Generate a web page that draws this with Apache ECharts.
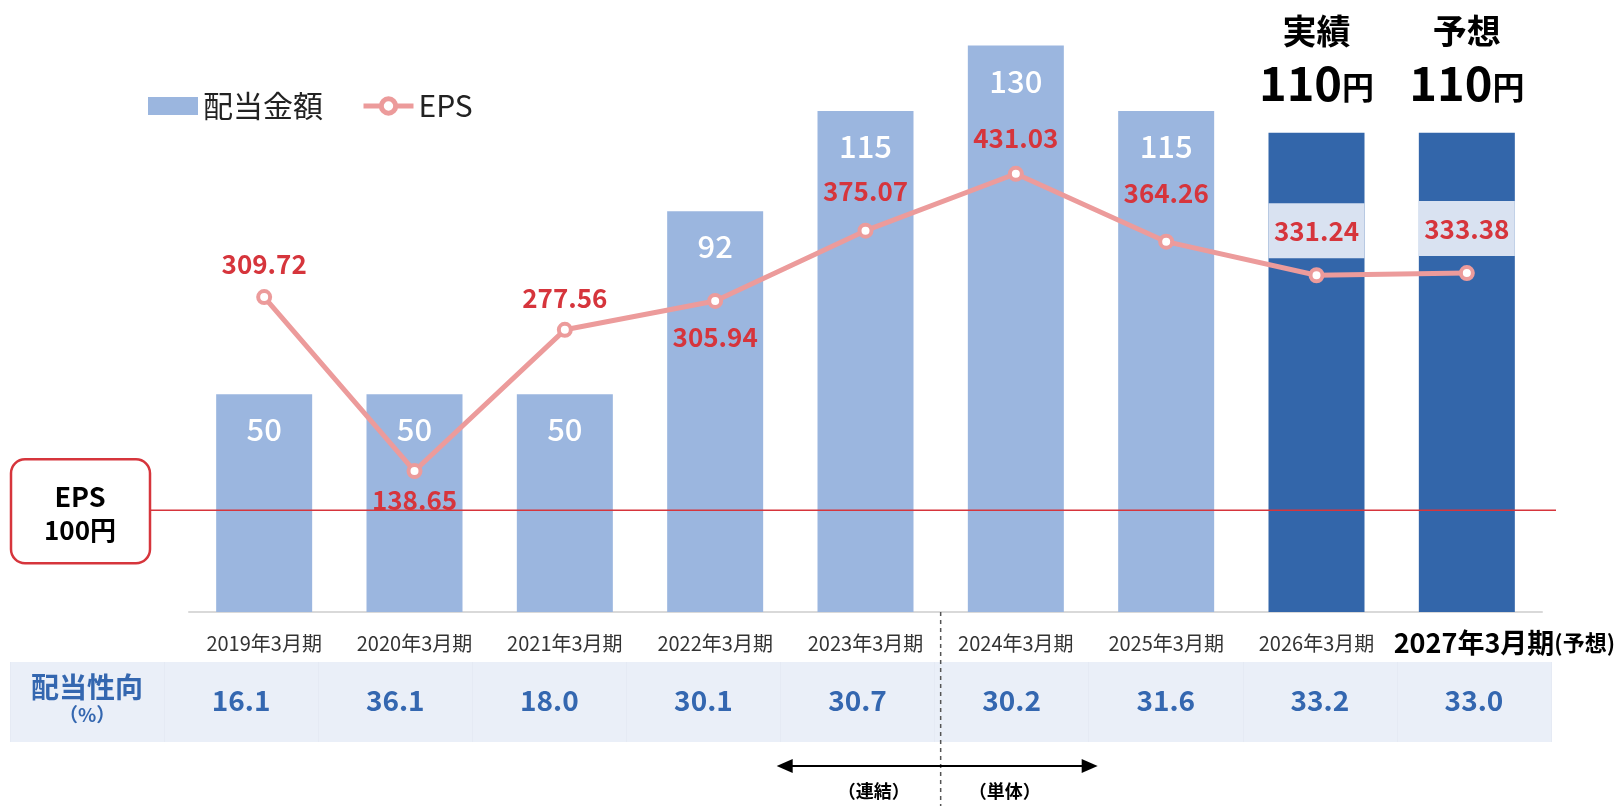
<!DOCTYPE html>
<html>
<head>
<meta charset="utf-8">
<script src="https://cdn.jsdelivr.net/npm/echarts@6/dist/echarts.min.js"></script>
<style>
html, body { margin: 0; padding: 0; background: #fff; }
#main { width: 1621px; height: 806px; }
</style>
</head>
<body>
<div id="main"></div>
<script>
// data
var categories = ['2019年3月期', '2020年3月期', '2021年3月期', '2022年3月期', '2023年3月期',
    '2024年3月期', '2025年3月期', '2026年3月期', '2027年3月期'];
var dividends = [50, 50, 50, 92, 115, 130, 115, 110, 110];
var eps = [309.72, 138.65, 277.56, 305.94, 375.07, 431.03, 364.26, 331.24, 333.38];
var payoutRatio = ['16.1', '36.1', '18.0', '30.1', '30.7', '30.2', '31.6', '33.2', '33.0'];
var payoutHeader = '配当性向';
var payoutUnit = '（%）';
var topTitles = { 7: '実績', 8: '予想' };
var forecastSuffix = '(予想)';
var epsGuide = 100;
var splitCats = ['2023年3月期', '2024年3月期'];
var splitNames = ['（連結）', '（単体）'];

var FONT = '"Noto Sans CJK JP", "Noto Sans", sans-serif';
var LIGHT = '#9BB6DF', DARK = '#3366AA', PINK = '#EC9B9B', RED = '#D6353C', BLUE = '#3467B0';

// per point: label side and gap from marker
var epsLabelSide = ['top', 'bottom', 'top', 'bottom', 'top', 'top', 'top', 'top', 'top'];
var epsLabelGap = [12, 8, 11, 15, 19, 15, 28, 9, 9];

var chart = echarts.init(document.getElementById('main'));

var barData = dividends.map(function (v, i) {
    if (topTitles[i]) {
        return {
            value: v,
            itemStyle: { color: DARK },
            label: {
                show: true,
                position: 'top',
                distance: 24,
                formatter: '{t|' + topTitles[i] + '}\n{n|' + v + '}{y|円}',
                rich: {
                    t: { fontSize: 34, fontWeight: 'bold', color: '#000', lineHeight: 52, fontFamily: FONT },
                    n: { fontSize: 47, fontWeight: 'bold', color: '#000', lineHeight: 52, fontFamily: FONT },
                    y: { fontSize: 32, fontWeight: 'bold', color: '#000', lineHeight: 52, fontFamily: FONT, padding: [8, 0, 0, 0] }
                }
            }
        };
    }
    return v;
});

var epsData = eps.map(function (v, i) {
    var lab = { position: epsLabelSide[i], distance: epsLabelGap[i] };
    if (topTitles[i]) {
        lab.backgroundColor = '#D9E2F1';
        lab.width = 96;
        lab.height = 26;
        lab.lineHeight = 26;
        lab.padding = [15, 0, 14, 0];
        lab.align = 'center';
    }
    return { value: v, label: lab };
});

var option = {
    animation: false,
    textStyle: { fontFamily: FONT },
    legend: {
        left: 148,
        top: 91,
        padding: 0,
        itemWidth: 50,
        itemHeight: 18,
        itemGap: 38,
        textStyle: { fontSize: 30, color: '#222', fontFamily: FONT },
        lineStyle: { width: 5 },
        itemStyle: { borderWidth: 5 },
        data: [{ name: '配当金額', icon: 'rect' }, { name: 'EPS' }]
    },
    grid: [
        { left: 189, right: 79, top: 2, bottom: 194 },
        { left: 10, right: 70, top: 662, bottom: 64, show: true, backgroundColor: '#EAEFF8', borderWidth: 0 }
    ],
    xAxis: [
        {
            type: 'category',
            gridIndex: 0,
            data: categories,
            axisLine: { lineStyle: { color: '#D9D9D9', width: 2 } },
            axisTick: { show: false },
            axisLabel: {
                interval: 0,
                fontSize: 20,
                color: '#333',
                margin: 31,
                verticalAlign: 'middle',
                formatter: function (v, i) {
                    if (i === categories.length - 1) return '{big|' + v + '}{small|' + forecastSuffix + '}';
                    return v;
                },
                rich: {
                    big: { fontSize: 27, fontWeight: 'bold', color: '#000', padding: [0, 0, 0, 75], fontFamily: FONT },
                    small: { fontSize: 22, fontWeight: 'bold', color: '#000', fontFamily: FONT }
                }
            }
        },
        {
            type: 'category',
            gridIndex: 1,
            data: [payoutHeader].concat(payoutRatio),
            axisLine: { show: false },
            axisTick: { show: false },
            splitLine: { show: true, interval: 0, lineStyle: { color: '#E5EAF4', width: 1 } },
            axisLabel: {
                interval: 0,
                inside: true,
                margin: 42,
                verticalAlign: 'middle',
                color: BLUE,
                fontSize: 28,
                fontWeight: 'bold',
                formatter: function (v, i) {
                    if (i === 0) return '{h|' + v + '}\n{p|' + payoutUnit + '}';
                    return v;
                },
                rich: {
                    h: { fontSize: 28, fontWeight: 'bold', color: BLUE, lineHeight: 30, fontFamily: FONT },
                    p: { fontSize: 19, color: BLUE, lineHeight: 26, fontFamily: FONT }
                }
            }
        }
    ],
    yAxis: [
        { type: 'value', gridIndex: 0, min: 0, max: 140, show: false },
        { type: 'value', gridIndex: 0, min: 0, max: 600, show: false },
        { type: 'value', gridIndex: 1, show: false }
    ],
    series: [
        {
            name: '配当金額',
            type: 'bar',
            xAxisIndex: 0,
            yAxisIndex: 0,
            barWidth: 96,
            itemStyle: { color: LIGHT },
            label: {
                show: true,
                position: 'insideTop',
                distance: 20,
                color: '#fff',
                fontSize: 31,
                fontWeight: 500,
                fontFamily: FONT
            },
            data: barData
        },
        {
            name: 'EPS',
            type: 'line',
            xAxisIndex: 0,
            yAxisIndex: 1,
            symbol: 'circle',
            symbolSize: 12,
            z: 5,
            lineStyle: { color: PINK, width: 5 },
            itemStyle: { color: '#fff', borderColor: PINK, borderWidth: 4 },
            label: {
                show: true,
                color: RED,
                fontSize: 26,
                fontWeight: 'bold',
                fontFamily: FONT
            },
            data: epsData
        }
    ]
};

chart.setOption(option);

// annotations placed through the axes
var y100 = chart.convertToPixel({ yAxisIndex: 1 }, epsGuide);
var xa = chart.convertToPixel({ xAxisIndex: 0 }, splitCats[0]);
var xb = chart.convertToPixel({ xAxisIndex: 0 }, splitCats[1]);
var xSplit = (xa + xb) / 2;
var yBase = chart.convertToPixel({ yAxisIndex: 0 }, 0);
var yArrow = 766;

chart.setOption({
    graphic: [
        {
            type: 'line', z: 20,
            shape: { x1: 150, y1: y100, x2: 1556, y2: y100 },
            style: { stroke: RED, lineWidth: 1.5 }
        },
        {
            type: 'rect', z: 21,
            shape: { x: 11, y: y100 - 51, width: 139, height: 104, r: 14 },
            style: { fill: '#fff', stroke: RED, lineWidth: 2.5 }
        },
        {
            type: 'text', z: 22,
            x: 80, y: y100 + 3,
            style: {
                text: '{a|EPS}\n{b|' + epsGuide + '円}',
                align: 'center', verticalAlign: 'middle',
                rich: {
                    a: { fontSize: 27, fontWeight: 'bold', fill: '#000', lineHeight: 34, align: 'center', fontFamily: FONT },
                    b: { fontSize: 26, fontWeight: 'bold', fill: '#000', lineHeight: 34, align: 'center', fontFamily: FONT }
                }
            }
        },
        {
            type: 'line', z: 20,
            shape: { x1: xSplit, y1: yBase, x2: xSplit, y2: 806 },
            style: { stroke: '#555', lineWidth: 1.5, lineDash: [4, 4] }
        },
        {
            type: 'line', z: 20,
            shape: { x1: xSplit - 150, y1: yArrow, x2: xSplit + 145, y2: yArrow },
            style: { stroke: '#000', lineWidth: 2 }
        },
        {
            type: 'polygon', z: 20,
            shape: { points: [[xSplit - 164, yArrow], [xSplit - 148, yArrow - 7], [xSplit - 148, yArrow + 7]] },
            style: { fill: '#000' }
        },
        {
            type: 'polygon', z: 20,
            shape: { points: [[xSplit + 157, yArrow], [xSplit + 141, yArrow - 7], [xSplit + 141, yArrow + 7]] },
            style: { fill: '#000' }
        },
        {
            type: 'text', z: 20,
            x: xSplit - 67, y: 791,
            style: { text: splitNames[0], align: 'center', verticalAlign: 'middle', fontSize: 18, fontWeight: 'bold', fill: '#000', fontFamily: FONT }
        },
        {
            type: 'text', z: 20,
            x: xSplit + 64, y: 791,
            style: { text: splitNames[1], align: 'center', verticalAlign: 'middle', fontSize: 18, fontWeight: 'bold', fill: '#000', fontFamily: FONT }
        }
    ]
});
</script>
</body>
</html>
